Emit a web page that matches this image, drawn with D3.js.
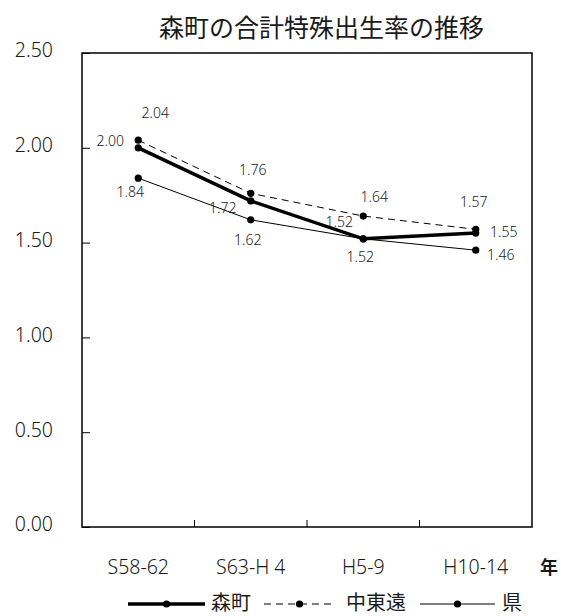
<!DOCTYPE html>
<html>
<head>
<meta charset="utf-8">
<script src="https://cdn.jsdelivr.net/npm/d3@7/dist/d3.min.js"></script>
<style>
  html, body { margin: 0; padding: 0; background: #fff; }
  svg { display: block; }
  text { font-family: "Noto Sans", "Noto Sans CJK JP", sans-serif; fill: #1a1a1a; }
  .cjk { font-family: "Noto Sans CJK JP", "Noto Sans", sans-serif; }
</style>
</head>
<body>
<svg id="chart" width="561" height="616"></svg>
<script>
// Periods (x axis categories)
const periods = ["S58-62", "S63-H 4", "H5-9", "H10-14"];
// Total fertility rate per series
const moriValues = [2.00, 1.72, 1.52, 1.55];
const chutoenValues = [2.04, 1.76, 1.64, 1.57];
const prefValues = [1.84, 1.62, 1.52, 1.46];
// Y axis ticks
const yTicks = [0, 0.5, 1.0, 1.5, 2.0, 2.5];
const seriesNames = ["森町", "中東遠", "県"];

// Label offsets (dx, dy of the text baseline-center from its point)
const labelOffsets = {
  "森町":  [[-28, -2], [-28, 12], [-24, -12], [28, 4]],
  "中東遠": [[17, -22], [2, -18], [11, -14], [-2, -22]],
  "県":    [[-8, 19], [-3, 25], [-3, 23], [25, 10]]
};

const series = [
  { name: seriesNames[0], values: moriValues, width: 3.5, dash: null },
  { name: seriesNames[1], values: chutoenValues, width: 1, dash: "7,5" },
  { name: seriesNames[2], values: prefValues, width: 1, dash: null }
];

const svg = d3.select("#chart");
const plotLeft = 82, plotRight = 532, plotTop = 53, plotBottom = 527;

const x = d3.scaleBand().domain(periods).range([plotLeft, plotRight]).padding(0);
const y = d3.scaleLinear().domain([0, 2.5]).range([plotBottom, plotTop]);
const cx = d => x(d) + x.bandwidth() / 2;

// Title
svg.append("text")
  .attr("class", "cjk")
  .attr("x", 321.5).attr("y", 37)
  .attr("text-anchor", "middle")
  .style("font-size", "25px")
  .text("森町の合計特殊出生率の推移");

// Y axis with inward ticks
const yAxis = svg.append("g")
  .attr("transform", `translate(${plotLeft},0)`)
  .call(d3.axisLeft(y).tickValues(yTicks).tickFormat(d3.format(".2f"))
        .tickSize(-8).tickPadding(29));
yAxis.select(".domain").remove();
yAxis.selectAll("line").attr("stroke", "#000");
yAxis.selectAll("text")
  .attr("dy", "0.2em")
  .style("font-size", "19.5px")
  .style("font-weight", "300")
  .style("font-family", "'Noto Sans', sans-serif")
  .attr("fill", "#222");

// X axis labels
const xAxis = svg.append("g")
  .attr("transform", `translate(0,${plotBottom})`)
  .call(d3.axisBottom(x).tickSize(0).tickPadding(33));
xAxis.select(".domain").remove();
xAxis.selectAll("text")
  .style("font-size", "19.5px")
  .style("font-weight", "300")
  .style("font-family", "'Noto Sans', sans-serif")
  .attr("fill", "#222");

// X boundary ticks (inward)
svg.append("g").selectAll("line")
  .data(periods.slice(1))
  .join("line")
  .attr("x1", d => x(d)).attr("x2", d => x(d))
  .attr("y1", plotBottom).attr("y2", plotBottom - 7)
  .attr("stroke", "#000");

// Unit label
svg.append("text")
  .attr("class", "cjk")
  .attr("x", 549).attr("y", 574)
  .attr("text-anchor", "middle")
  .style("font-size", "18px")
  .style("font-weight", "bold")
  .text("年");

// Plot frame
svg.append("rect")
  .attr("x", plotLeft).attr("y", plotTop)
  .attr("width", plotRight - plotLeft).attr("height", plotBottom - plotTop)
  .attr("fill", "none").attr("stroke", "#000").attr("stroke-width", 1.5);

const line = d3.line().x((d, i) => cx(periods[i])).y(d => y(d));

// Series lines and markers (drawn back to front)
[series[2], series[1], series[0]].forEach(s => {
  svg.append("path")
    .datum(s.values)
    .attr("d", line)
    .attr("fill", "none")
    .attr("stroke", "#000")
    .attr("stroke-width", s.width)
    .attr("stroke-dasharray", s.dash);
  svg.append("g").selectAll("circle")
    .data(s.values)
    .join("circle")
    .attr("cx", (d, i) => cx(periods[i]))
    .attr("cy", d => y(d))
    .attr("r", 3.6)
    .attr("fill", "#000");
});

// Data labels
series.forEach(s => {
  svg.append("g").selectAll("text")
    .data(s.values)
    .join("text")
    .attr("x", (d, i) => cx(periods[i]) + labelOffsets[s.name][i][0])
    .attr("y", (d, i) => y(d) + labelOffsets[s.name][i][1])
    .attr("text-anchor", "middle")
    .style("font-size", "14px")
    .style("font-weight", "300")
    .attr("fill", "#2a2a2a")
    .text(d => d.toFixed(2));
});

// Legend
const legendY = 604;
const legendItems = [
  { s: series[0], x1: 128, x2: 205, tx: 211 },
  { s: series[1], x1: 264, x2: 335, tx: 346 },
  { s: series[2], x1: 420, x2: 495, tx: 502 }
];
const legend = svg.append("g");
legendItems.forEach(it => {
  legend.append("line")
    .attr("x1", it.x1).attr("x2", it.x2)
    .attr("y1", legendY).attr("y2", legendY)
    .attr("stroke", "#000")
    .attr("stroke-width", it.s.width)
    .attr("stroke-dasharray", it.s.dash);
  legend.append("circle")
    .attr("cx", (it.x1 + it.x2) / 2).attr("cy", legendY)
    .attr("r", 3.6).attr("fill", "#000");
  legend.append("text")
    .attr("class", "cjk")
    .attr("x", it.tx).attr("y", legendY + 6)
    .style("font-size", "20px")
    .text(it.s.name);
});
</script>
</body>
</html>
